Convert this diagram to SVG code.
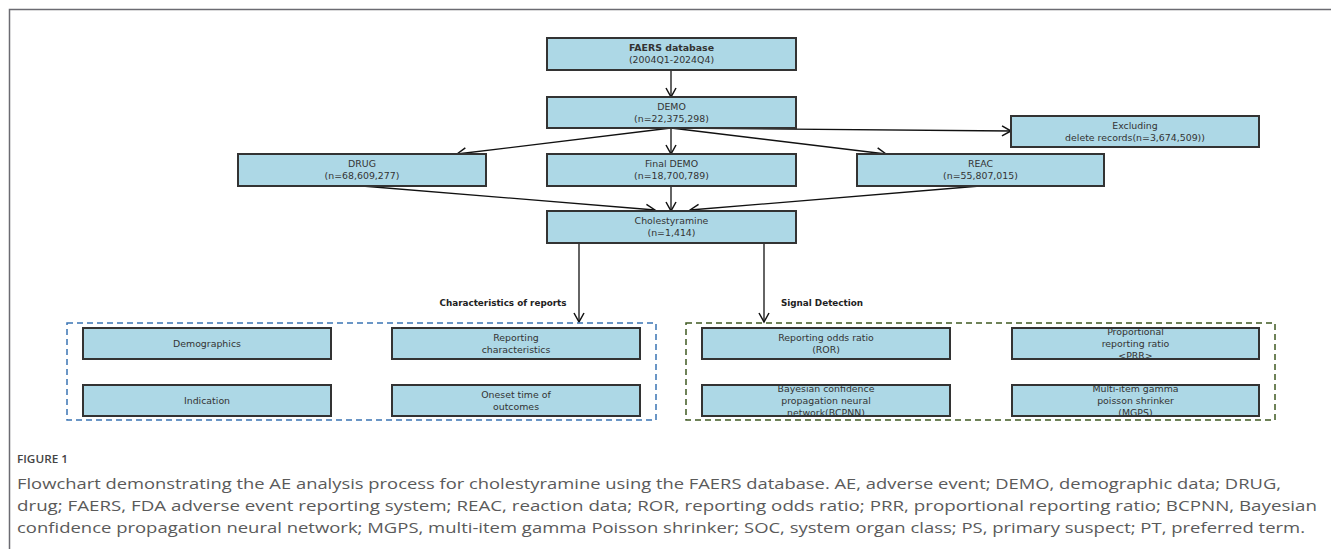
<svg xmlns="http://www.w3.org/2000/svg" width="1331" height="549" viewBox="0 0 1331 549">
<style>
.box{fill:#add8e6;stroke:#333;stroke-width:2}
.t{font-family:"DejaVu Sans",Verdana,sans-serif;font-size:9.4px;fill:#333;text-anchor:middle}
.b{font-weight:bold}
.lbl{font-family:"DejaVu Sans",Verdana,sans-serif;font-size:8.8px;font-weight:bold;fill:#222;text-anchor:middle}
.conn{stroke:#111;stroke-width:1.3;fill:none;marker-end:url(#arr)}
.cap{font-family:"Open Sans","Liberation Sans",sans-serif;font-size:15px;fill:#5a5a5a}
</style>
<defs>
<marker id="arr" markerWidth="12" markerHeight="12" refX="10" refY="6" orient="auto" markerUnits="userSpaceOnUse">
<polyline points="1,1 10,6 1,11" fill="none" stroke="#111" stroke-width="1.5"/>
</marker>
</defs>
<rect width="1331" height="549" fill="#fff"/>
<path d="M9.5 549 V9.5 H1331" fill="none" stroke="#6b6b72" stroke-width="1.5"/>

<g id="connectors">
<line class="conn" x1="671" y1="70" x2="671" y2="97"/>
<line class="conn" x1="671" y1="128" x2="457" y2="154"/>
<line class="conn" x1="671" y1="128" x2="671" y2="154"/>
<line class="conn" x1="671" y1="128" x2="886" y2="154"/>
<line class="conn" x1="671" y1="128" x2="1011" y2="131"/>
<line class="conn" x1="362" y1="186" x2="655" y2="210"/>
<line class="conn" x1="671" y1="186" x2="671" y2="211"/>
<line class="conn" x1="980" y1="186" x2="690" y2="210"/>
<line class="conn" x1="579" y1="243" x2="579" y2="322"/>
<line class="conn" x1="764" y1="243" x2="764" y2="322"/>
</g>

<g id="faers"><rect class="box" x="547" y="38" width="249" height="32"/><text class="t b" x="671.5" y="51">FAERS database</text><text class="t" x="671.5" y="63">(2004Q1-2024Q4)</text></g>
<g id="demo"><rect class="box" x="547" y="97" width="249" height="31"/><text class="t" x="671.5" y="110">DEMO</text><text class="t" x="671.5" y="122">(n=22,375,298)</text></g>
<g id="excluding"><rect class="box" x="1011" y="116" width="248" height="31"/><text class="t" x="1135" y="129">Excluding</text><text class="t" x="1135" y="141">delete records(n=3,674,509))</text></g>
<g id="drug"><rect class="box" x="238" y="154" width="248" height="32"/><text class="t" x="362" y="167">DRUG</text><text class="t" x="362" y="179">(n=68,609,277)</text></g>
<g id="finaldemo"><rect class="box" x="547" y="154" width="249" height="32"/><text class="t" x="671.5" y="167">Final DEMO</text><text class="t" x="671.5" y="179">(n=18,700,789)</text></g>
<g id="reac"><rect class="box" x="857" y="154" width="247" height="32"/><text class="t" x="980.5" y="167">REAC</text><text class="t" x="980.5" y="179">(n=55,807,015)</text></g>
<g id="cholestyramine"><rect class="box" x="547" y="211" width="249" height="32"/><text class="t" x="671.5" y="224">Cholestyramine</text><text class="t" x="671.5" y="236">(n=1,414)</text></g>

<text class="lbl" x="503" y="306">Characteristics of reports</text>
<text class="lbl" x="822" y="306">Signal Detection</text>

<g id="characteristics-group">
<rect x="67" y="323" width="589" height="97" fill="none" stroke="#3a74b4" stroke-width="1.5" stroke-dasharray="6,4"/>
<g id="demographics"><rect class="box" x="83" y="328" width="248" height="31"/><text class="t" x="207" y="347">Demographics</text></g>
<g id="reporting-characteristics"><rect class="box" x="392" y="328" width="248" height="31"/><text class="t" x="516" y="341">Reporting</text><text class="t" x="516" y="353">characteristics</text></g>
<g id="indication"><rect class="box" x="83" y="385" width="248" height="31"/><text class="t" x="207" y="404">Indication</text></g>
<g id="onset"><rect class="box" x="392" y="385" width="248" height="31"/><text class="t" x="516" y="398">Oneset time of</text><text class="t" x="516" y="410">outcomes</text></g>
</g>

<g id="signal-group">
<rect x="686" y="323" width="589" height="97" fill="none" stroke="#3f5a22" stroke-width="1.5" stroke-dasharray="6,4"/>
<g id="ror"><rect class="box" x="702" y="328" width="248" height="31"/><text class="t" x="826" y="341">Reporting odds ratio</text><text class="t" x="826" y="353">(ROR)</text></g>
<g id="prr"><rect class="box" x="1012" y="328" width="247" height="31"/><text class="t" x="1135.5" y="335">Proportional</text><text class="t" x="1135.5" y="347">reporting ratio</text><text class="t" x="1135.5" y="359">&lt;PRR&gt;</text></g>
<g id="bcpnn"><rect class="box" x="702" y="385" width="248" height="31"/><text class="t" x="826" y="392">Bayesian confidence</text><text class="t" x="826" y="404">propagation neural</text><text class="t" x="826" y="416">network(BCPNN)</text></g>
<g id="mgps"><rect class="box" x="1012" y="385" width="247" height="31"/><text class="t" x="1135.5" y="392">Multi-item gamma</text><text class="t" x="1135.5" y="404">poisson shrinker</text><text class="t" x="1135.5" y="416">(MGPS)</text></g>
</g>

<text x="17" y="463" font-family="'Open Sans','Liberation Sans',sans-serif" font-size="11.5" font-weight="600" fill="#444" textLength="51" lengthAdjust="spacingAndGlyphs">FIGURE 1</text>
<text class="cap" x="17" y="489" textLength="1264" lengthAdjust="spacingAndGlyphs">Flowchart demonstrating the AE analysis process for cholestyramine using the FAERS database. AE, adverse event; DEMO, demographic data; DRUG,</text>
<text class="cap" x="17" y="511" textLength="1300" lengthAdjust="spacingAndGlyphs">drug; FAERS, FDA adverse event reporting system; REAC, reaction data; ROR, reporting odds ratio; PRR, proportional reporting ratio; BCPNN, Bayesian</text>
<text class="cap" x="17" y="533" textLength="1288" lengthAdjust="spacingAndGlyphs">confidence propagation neural network; MGPS, multi-item gamma Poisson shrinker; SOC, system organ class; PS, primary suspect; PT, preferred term.</text>
</svg>
